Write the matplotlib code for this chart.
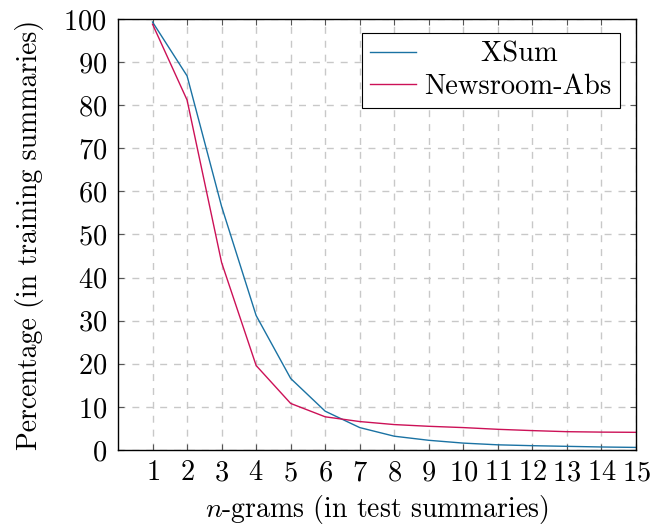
import numpy as np
import matplotlib
matplotlib.use("Agg")
import matplotlib.pyplot as plt

plt.rcParams['font.family'] = 'cmr10'
plt.rcParams['mathtext.fontset'] = 'cm'
plt.rcParams['axes.formatter.use_mathtext'] = True

# n-gram overlap data
ngrams = [1, 2, 3, 4, 5, 6, 7, 8, 9, 10, 11, 12, 13, 14, 15]
xsum = [99.3, 86.8, 56.5, 31.2, 16.6, 9.0, 5.2, 3.2, 2.25, 1.6, 1.2, 1.0, 0.85, 0.7, 0.6]
newsroom = [98.8, 81.2, 43.5, 19.6, 10.8, 7.7, 6.6, 5.9, 5.5, 5.2, 4.8, 4.5, 4.25, 4.15, 4.1]

fig = plt.figure(figsize=(6.5, 5.27), dpi=100)
ax1 = fig.add_axes([118/650, 1 - 450/527, 518/650, 431/527])

# leading spaces roughly centre the short label like pgfplots does
ax1.plot(ngrams, xsum, color='#1a72a3', linewidth=1.0, label='      XSum')
ax1.plot(ngrams, newsroom, color='#cc1157', linewidth=1.0, label='Newsroom-Abs')

ax1.set_xlim(0, 15)
ax1.set_ylim(0, 100)
ax1.set_xticks(ngrams)
ax1.set_yticks(np.arange(0, 101, 10))
ax1.tick_params(direction='in', top=True, right=True, length=4, width=0.8,
                color='#555555', labelsize=20.5, pad=8)
ax1.tick_params(axis='x', pad=7)
ax1.grid(True, linestyle=(0, (5, 5)), color='#c8c8c8', linewidth=1.0)
for s in ax1.spines.values():
    s.set_linewidth(1.0)

ax1.set_xlabel('$n$-grams (in test summaries)', fontsize=20, labelpad=5)
ax1.set_ylabel('Percentage (in training summaries)', fontsize=20, labelpad=14)

leg = ax1.legend(loc='upper right', bbox_to_anchor=(0.969, 0.9675), fontsize=20.5,
                 fancybox=False, edgecolor='black', framealpha=1,
                 borderaxespad=0, handlelength=1.6, borderpad=0.3,
                 labelspacing=0.2, handletextpad=0.3)
leg.get_frame().set_linewidth(0.8)

fig.savefig('out.png', dpi=100)
